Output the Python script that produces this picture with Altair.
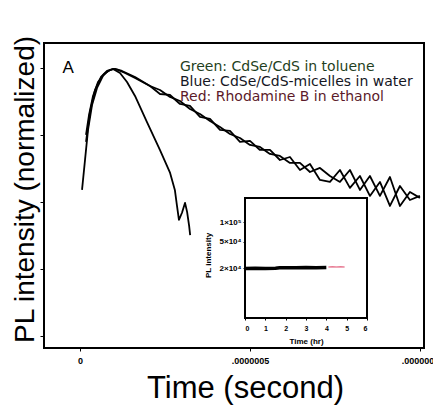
import altair as alt
import pandas as pd

# ---- main decay curves (time in ns, normalized PL intensity) ----
green_t = [5.9, 14.7, 23.5, 35.3, 50.0, 67.6, 82.4, 97.1, 111.8, 132.4, 161.8,
           205.9, 235.3, 264.7, 294.1, 323.5, 352.9, 382.4, 411.8, 441.2, 470.6, 500, 529.4, 558.8, 588.2,
           617.6, 647.1, 676.5, 705.9, 735.3, 764.7, 794.1, 823.5, 852.9, 882.4, 911.8, 941.2, 970.6, 1000]
green_v = [0.0151, 0.0424, 0.119, 0.280, 0.503, 0.760, 0.902, 0.966, 0.934, 0.842, 0.709,
           0.5385, 0.4694, 0.3693, 0.3218, 0.2444, 0.2058, 0.1618, 0.1316, 0.1035, 0.0902, 0.0709, 0.0662,
           0.0520, 0.0486, 0.0382, 0.0382, 0.0280, 0.0322, 0.0244, 0.0199, 0.0300, 0.0151, 0.0244, 0.0123,
           0.0236, 0.00871, 0.0141, 0.0115]

blue_t = [17.6, 26.5, 38.2, 52.9, 70.6, 88.2, 102.9, 123.5, 161.8,
          205.9, 235.3, 264.7, 294.1, 323.5, 352.9, 382.4, 411.8, 441.2, 470.6, 500, 529.4, 558.8, 588.2,
          617.6, 647.1, 676.5, 705.9, 735.3, 764.7, 794.1, 823.5, 852.9, 882.4, 911.8, 941.2, 970.6, 1000]
blue_v = [0.100, 0.199, 0.382, 0.618, 0.813, 0.934, 0.966, 0.902, 0.734,
          0.5385, 0.4091, 0.3954, 0.2902, 0.2709, 0.1856, 0.1733, 0.1188, 0.1148, 0.0786, 0.0814, 0.0597,
          0.0597, 0.0423, 0.0469, 0.0300, 0.0369, 0.0213, 0.0199, 0.0300, 0.0162, 0.0244, 0.0123, 0.0199,
          0.00871, 0.0173, 0.0107, 0.0123]

red_t = [17.6, 29.4, 44.1, 61.8, 79.4, 97.1, 117.6, 138.2, 161.8, 197, 235, 265, 279, 285, 291, 300, 309, 315,
         321, 324]
red_v = [0.0787, 0.221, 0.469, 0.734, 0.902, 0.966, 0.842, 0.618, 0.382, 0.156, 0.0597, 0.0271, 0.0151, 0.0090,
         0.0054, 0.0069, 0.0097, 0.0071, 0.0044, 0.0032]

x_domain_ns = [-106, 1012]
y_domain = [6.6e-5, 2.36]
x_tick_values = [0, 5e-7, 1e-6]
y_tick_values = [1e-4, 1e-3, 1e-2, 1e-1, 1]

# ---- legend texts ----
legend_text = ["Green: CdSe/CdS in toluene", "Blue: CdSe/CdS-micelles in water", "Red: Rhodamine B in ethanol"]
legend_color = ["#1f3f22", "#15171f", "#5c1a2a"]
legend_t_ns = [294, 294, 294]
legend_v = [0.902, 0.538, 0.322]

# ---- inset: PL intensity vs time (hr) ----
inset_black_h = [0, 0.5, 1.0, 1.5, 1.7, 2.0, 2.5, 3.0, 3.5, 4.0]
inset_black_v = [19700, 19800, 19700, 19800, 20100, 20200, 20200, 20300, 20200, 20400]
inset_red_h = [4.1, 4.3, 4.5, 4.7, 4.9]
inset_red_v = [20700, 20800, 20700, 20800, 20700]
inset_x_domain = [0, 6]
inset_y_domain = [3474, 232000]
inset_y_ticks = [20000, 50000, 100000]

rows = []
for name, ts, vs in [("green", green_t, green_v), ("blue", blue_t, blue_v), ("red", red_t, red_v)]:
    for t, v in zip(ts, vs):
        rows.append({"series": name, "t": t * 1e-9, "v": v})
curves = pd.DataFrame(rows)

FONT = "Liberation Sans"

xscale = alt.Scale(domain=[d * 1e-9 for d in x_domain_ns], nice=False, zero=False)
yscale = alt.Scale(type="log", domain=y_domain, nice=False)

lines = alt.Chart(curves).mark_line(color="black", strokeWidth=1.8, strokeJoin="round").encode(
    x=alt.X("t:Q", scale=xscale,
            axis=alt.Axis(values=x_tick_values, grid=False, domain=False, tickSize=3, tickColor="black",
                          labelExpr="datum.value == 0 ? '0' : (datum.value < 7e-7 ? '.0000005' : '.0000001')",
                          labelFont=FONT, labelFontSize=9, labelFontWeight="bold", labelColor="black",
                          labelPadding=5, title="Time (second)", titleFont=FONT, titleFontSize=31,
                          titleFontWeight="normal", titleColor="black", titleBaseline="alphabetic",
                          titleX=201, titleY=49)),
    y=alt.Y("v:Q", scale=yscale,
            axis=alt.Axis(values=y_tick_values, grid=False, domain=False, labels=False, tickSize=4,
                          tickColor="black", title="PL intensity (normalized)", titleFont=FONT,
                          titleFontSize=28, titleFontWeight="normal", titleColor="black",
                          titleBaseline="alphabetic", titleAngle=270, titleX=-11, titleY=146)),
    detail="series:N",
    order="t:Q",
)

leg_df = pd.DataFrame({"t": [t * 1e-9 for t in legend_t_ns], "v": legend_v, "text": legend_text,
                       "color": legend_color})
legend = alt.Chart(leg_df).mark_text(align="left", baseline="alphabetic", font="DejaVu Sans",
                                     fontSize=14).encode(
    x="t:Q", y="v:Q", text="text:N", color=alt.Color("color:N", scale=None))

a_df = pd.DataFrame({"t": [-35e-9], "v": [0.842], "text": ["A"]})
a_label = alt.Chart(a_df).mark_text(align="center", baseline="alphabetic", font=FONT, fontSize=17,
                                    color="black").encode(x="t:Q", y="v:Q", text="text:N")

main = alt.layer(lines, legend, a_label)

# ---- inset ----
ixscale = alt.Scale(domain=inset_x_domain, range=[201, 323], nice=False, zero=False)
iyscale = alt.Scale(type="log", domain=inset_y_domain, range=[275, 155], nice=False)

frame_df = pd.DataFrame({"h": [inset_x_domain[0]], "h2": [inset_x_domain[1]],
                         "p": [inset_y_domain[0]], "p2": [inset_y_domain[1]]})
frame = alt.Chart(frame_df).mark_rect(filled=False, stroke="black", strokeWidth=2).encode(
    x=alt.X("h:Q", scale=ixscale,
            axis=alt.Axis(orient="bottom", offset=-30, values=list(range(0, 7)), format="d", grid=False,
                          domain=False, tickSize=2, tickColor="black", labelFont=FONT, labelFontSize=7,
                          labelFontWeight="bold", labelColor="black", labelPadding=4,
                          title="Time (hr)", titleFont=FONT, titleFontSize=8, titleFontWeight="bold",
                          titleColor="black", titlePadding=6)),
    x2="h2:Q",
    y=alt.Y("p:Q", scale=iyscale,
            axis=alt.Axis(orient="left", offset=-201, values=inset_y_ticks, grid=False, domain=False,
                          tickSize=2, tickColor="black", labelFont=FONT, labelFontSize=8,
                          labelFontWeight="bold", labelColor="black", labelPadding=2,
                          labelExpr="datum.value == 100000 ? '1×10⁵' : (datum.value == 50000 ? '5×10⁴' : '2×10⁴')",
                          title="PL intensity", titleFont=FONT, titleFontSize=8, titleFontWeight="bold",
                          titleColor="black", titlePadding=7, titleY=212)),
    y2="p2:Q",
)

ib_df = pd.DataFrame({"h": inset_black_h, "p": inset_black_v})
ir_df = pd.DataFrame({"h": inset_red_h, "p": inset_red_v})
inset_black = alt.Chart(ib_df).mark_line(color="black", strokeWidth=3.5).encode(
    x=alt.X("h:Q", scale=ixscale), y=alt.Y("p:Q", scale=iyscale))
inset_red = alt.Chart(ir_df).mark_line(color="#e05070", strokeWidth=1.2).encode(
    x=alt.X("h:Q", scale=ixscale), y=alt.Y("p:Q", scale=iyscale))

inset = alt.layer(frame, inset_black, inset_red)

chart = alt.layer(main, inset).resolve_scale(x="independent", y="independent").properties(
    width=380, height=305,
    autosize=alt.AutoSizeParams(type="none"),
    padding={"left": 36, "top": 35, "right": 9, "bottom": 57},
    background="white",
).configure_view(stroke="black", strokeWidth=2)

chart.save("out.html", embed_options={"renderer": "svg", "actions": False})
